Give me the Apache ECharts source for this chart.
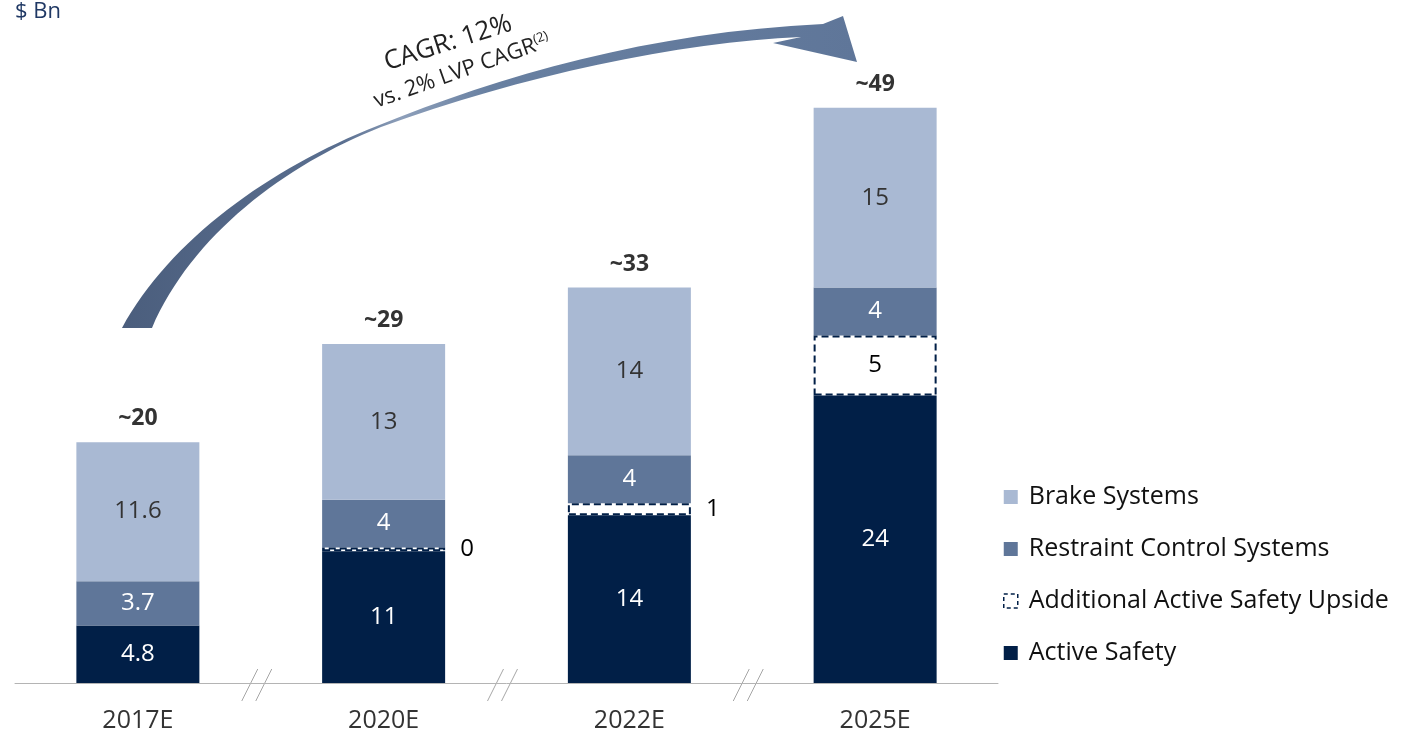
<!DOCTYPE html>
<html>
<head>
<meta charset="utf-8">
<script src="https://cdn.jsdelivr.net/npm/echarts@6/dist/echarts.min.js"></script>
<style>
  html, body { margin: 0; padding: 0; background: #fff; }
  #main { width: 1407px; height: 735px; }
</style>
</head>
<body>
<div id="main"></div>
<script>
const years = ['2017E', '2020E', '2022E', '2025E'];
const activeSafety = [4.8, 11, 14, 24];
const upside = [null, 0.3, 1, 5];
const upsideLabels = ['', '0', '1', '5'];
const restraint = [3.7, 4, 4, 4];
const brake = [11.6, 13, 14, 15];
const totals = ['~20', '~29', '~33', '~49'];

const NAVY = '#011f47';
const MID = '#5f7699';
const LIGHT = '#a9b9d3';
const FONT = 'Open Sans';

// curved CAGR arrow as a custom path shape (thick at the start, thin mid-way, head at the end)
const CagrArrow = echarts.graphic.extendPath(
  'M122 328 C170 240 270 168 377 126 C500 76 650 32 823 24 L843 16 L857 62 L773 43 L801 37 ' +
  'C680 42 520 76 381 127 C285 165 192 235 152 328 Z', {});
echarts.graphic.registerShape('cagrArrow', CagrArrow);

const chart = echarts.init(document.getElementById('main'), null, { renderer: 'canvas' });

const dashedStyle = { color: '#fff', borderColor: NAVY, borderWidth: 2, borderType: [7, 4] };

chart.setOption({
  animation: false,
  textStyle: { fontFamily: FONT },
  grid: { left: 15, right: 409, top: 0, bottom: 52 },
  xAxis: {
    type: 'category',
    data: years,
    axisLine: { lineStyle: { color: '#b4b4b4', width: 1 } },
    axisTick: { show: false },
    axisLabel: { color: '#333', fontSize: 25, margin: 25, fontFamily: FONT }
  },
  yAxis: { type: 'value', min: 0, max: 57, show: false, splitLine: { show: false } },
  legend: {
    orient: 'vertical',
    left: 998,
    top: 478,
    itemWidth: 14,
    itemHeight: 14,
    itemGap: 24,
    textStyle: { fontSize: 25, color: '#111', fontFamily: FONT, lineHeight: 28, padding: [0, 0, 0, 6] },
    data: [
      { name: 'Brake Systems', icon: 'rect', itemStyle: { color: LIGHT } },
      { name: 'Restraint Control Systems', icon: 'rect', itemStyle: { color: MID } },
      { name: 'Additional Active Safety Upside', icon: 'rect',
        itemStyle: { color: '#fff', borderColor: NAVY, borderWidth: 1.5, borderType: [4, 3] } },
      { name: 'Active Safety', icon: 'rect', itemStyle: { color: NAVY } }
    ]
  },
  series: [
    {
      name: 'Active Safety', type: 'bar', stack: 's', barWidth: 123,
      itemStyle: { color: NAVY },
      label: { show: true, position: 'inside', color: '#fff', fontSize: 24, fontFamily: FONT },
      data: activeSafety
    },
    {
      name: 'Additional Active Safety Upside', type: 'bar', stack: 's', z: 3,
      itemStyle: dashedStyle,
      label: {
        show: true, color: '#000', fontSize: 24, fontFamily: FONT,
        formatter: p => upsideLabels[p.dataIndex]
      },
      data: upside.map((v, i) => ({
        value: v,
        label: i === 3 ? { position: 'inside' } : { position: 'right', distance: 15 }
      }))
    },
    {
      name: 'Restraint Control Systems', type: 'bar', stack: 's',
      itemStyle: { color: MID },
      label: { show: true, position: 'inside', color: '#fff', fontSize: 24, fontFamily: FONT },
      data: restraint
    },
    {
      name: 'Brake Systems', type: 'bar', stack: 's',
      itemStyle: { color: LIGHT },
      label: { show: true, position: 'inside', color: '#333', fontSize: 24, fontFamily: FONT },
      data: brake
    },
    {
      name: 'total', type: 'bar', stack: 's',
      itemStyle: { color: 'transparent' },
      label: {
        show: true, position: 'top', distance: 12, color: '#333', fontSize: 23,
        fontWeight: 'bold', fontFamily: FONT,
        formatter: p => totals[p.dataIndex]
      },
      data: years.map(() => 0)
    }
  ]
});

// axis break marks "//" between categories
const breaks = [];
const y0 = chart.convertToPixel({ yAxisIndex: 0 }, 0);
for (let i = 0; i < years.length - 1; i++) {
  const a = chart.convertToPixel({ xAxisIndex: 0 }, years[i]);
  const b = chart.convertToPixel({ xAxisIndex: 0 }, years[i + 1]);
  const cx = (a + b) / 2 - 4;
  [-7, 7].forEach(dx => {
    breaks.push({
      type: 'line',
      shape: { x1: cx + dx - 8, y1: y0 + 18, x2: cx + dx + 8, y2: y0 - 14 },
      style: { stroke: '#a6a6a6', lineWidth: 1 }
    });
  });
}

chart.setOption({
  graphic: [
    ...breaks,
    {
      type: 'cagrArrow',
      style: {
        fill: new echarts.graphic.LinearGradient(0, 0, 1, 0, [
          { offset: 0, color: '#4b5e7d' },
          { offset: 0.3, color: '#5a6f90' },
          { offset: 0.38, color: '#8d9fba' },
          { offset: 0.5, color: '#6880a1' },
          { offset: 1, color: '#5f7699' }
        ])
      }
    },
    {
      type: 'text', x: 448, y: 43, rotation: 0.31,
      style: { text: 'CAGR: 12%', fontSize: 26, fontFamily: FONT, fill: '#222', align: 'center', verticalAlign: 'middle' }
    },
    {
      type: 'text', x: 462, y: 71, rotation: 0.34,
      style: {
        text: '{a|vs. 2% LVP CAGR}{s|(2)}',
        align: 'center', verticalAlign: 'middle',
        rich: {
          a: { fontSize: 22, fontFamily: FONT, fill: '#222' },
          s: { fontSize: 13, fontFamily: FONT, fill: '#222', padding: [0, 0, 10, 0] }
        }
      }
    },
    {
      type: 'text', x: 15, y: 23,
      style: { text: '$ Bn', fontSize: 22, fontFamily: FONT, fill: '#1f3864', verticalAlign: 'bottom' }
    }
  ]
});
</script>
</body>
</html>
